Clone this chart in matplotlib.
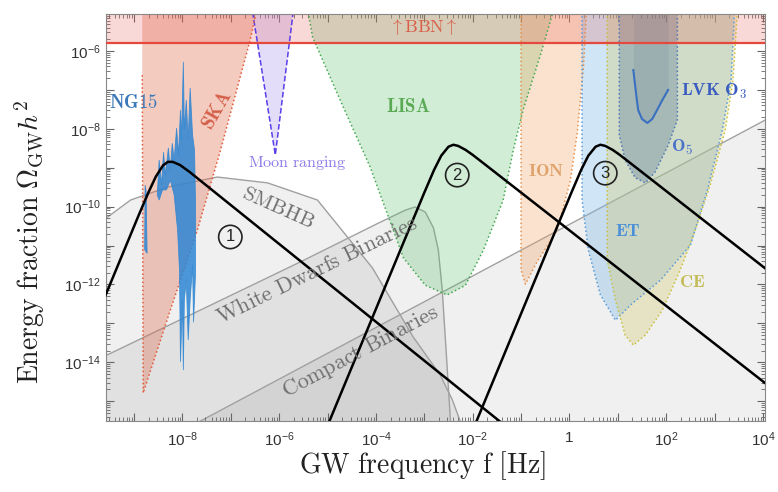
import numpy as np
import matplotlib.pyplot as plt
from matplotlib.ticker import FixedLocator, FixedFormatter, LogLocator, NullFormatter

plt.rcParams['font.family'] = ['Liberation Sans', 'DejaVu Sans']
plt.rcParams['mathtext.fontset'] = 'custom'
plt.rcParams['mathtext.rm'] = 'Liberation Sans'
plt.rcParams['mathtext.it'] = 'Liberation Sans:italic'
plt.rcParams['mathtext.bf'] = 'Liberation Sans:bold'

# all values are log10(f/Hz) and log10(Omega_GW h^2)
x_lim = (-9.58, 4.04)
y_lim = (-15.51, -5.05)
bbn_level = -5.79

# signal spectra
curve1_f = [-9.6, -9.2, -8.9, -8.7, -8.55, -8.4, -8.3, -8.2, -8.05, -7.85, -7.5, -1.0]
curve1_o = [-12.31, -11.11, -10.21, -9.63, -9.23, -8.94, -8.85, -8.85, -8.93, -9.11, -9.46, -15.96]
curve2_f = [-5.0, -3.5, -3.0, -2.8, -2.65, -2.5, -2.4, -2.3, -2.15, -2.0, -1.7, 4.1]
curve2_o = [-15.63, -11.13, -9.64, -9.06, -8.69, -8.46, -8.41, -8.44, -8.54, -8.67, -8.96, -14.59]
curve3_f = [-1.96, -0.46, 0.04, 0.24, 0.39, 0.54, 0.64, 0.74, 0.89, 1.04, 1.34, 4.1]
curve3_o = [-15.63, -11.13, -9.64, -9.06, -8.69, -8.46, -8.41, -8.44, -8.54, -8.67, -8.96, -11.64]

# astrophysical foregrounds
smbhb_f = [-9.7, -9.57, -9.07, -8.31, -7.28, -6.24, -5.21, -4.59, -4.07, -3.23, -2.67, -2.42, -2.26, -2.2]
smbhb_o = [-10.41, -10.29, -9.83, -9.50, -9.24, -9.39, -9.83, -10.78, -11.58, -13.35, -14.33, -14.97, -15.51, -16.0]
wd_f = [-9.7, -7.63, -5.56, -3.91, -3.39, -3.19, -2.98, -2.81, -2.71, -2.63, -2.55, -2.46, -2.44]
wd_o = [-13.90, -12.66, -11.42, -10.40, -10.09, -10.01, -10.14, -10.55, -11.12, -12.14, -13.69, -15.51, -16.0]
cb_f = [-8.5, 4.1]
cb_o = [-16.09, -7.74]

# detector sensitivities
ska_f = [-8.83, -8.83, -8.81, -8.25, -7.69, -7.21, -6.60, -6.47]
ska_o = [-5.0, -6.62, -14.79, -12.66, -10.60, -8.54, -5.72, -5.0]
moon_f = [-6.55, -6.08, -5.71]
moon_o = [-5.0, -8.67, -5.0]
lisa_f = [-5.40, -5.31, -4.74, -4.12, -3.43, -2.98, -2.53, -2.15, -1.78, -1.37, -1.16, -0.96, -0.60, -0.34]
lisa_o = [-5.0, -5.64, -7.26, -8.98, -11.32, -12.02, -12.27, -12.02, -11.12, -9.83, -8.54, -7.52, -6.10, -5.0]
ion_f = [-1.00, -1.00, -0.91, -0.67, -0.25, 0.02, 0.16, 0.29, 0.35]
ion_o = [-5.0, -11.63, -11.99, -11.42, -10.60, -9.32, -8.11, -6.41, -5.0]
et_f = [0.26, 0.26, 0.39, 0.64, 0.95, 1.26, 1.88, 2.50, 2.85, 3.16, 3.34, 3.41]
et_o = [-5.0, -9.83, -11.12, -12.27, -12.92, -12.53, -11.89, -10.99, -9.57, -8.03, -6.75, -5.0]
ce_f = [0.78, 0.78, 0.95, 1.15, 1.32, 1.57, 1.92, 2.29, 2.60, 2.91, 3.22, 3.38, 3.47]
ce_o = [-5.0, -11.37, -12.40, -13.30, -13.56, -13.30, -12.66, -11.63, -10.60, -9.44, -8.03, -6.75, -5.0]
o5_f = [1.03, 1.03, 1.15, 1.36, 1.57, 1.77, 2.04, 2.23, 2.23]
o5_o = [-5.0, -8.16, -8.80, -9.26, -9.39, -9.11, -8.42, -7.77, -5.0]
o3_f = [1.32, 1.38, 1.42, 1.50, 1.61, 1.71, 1.81, 1.92, 2.04]
o3_o = [-6.49, -7.13, -7.52, -7.75, -7.85, -7.75, -7.52, -7.26, -7.00]

# NANOGrav 15 yr spikes (outline)
ng_f = [-8.52, -8.48, -8.43, -8.39, -8.35, -8.29, -8.25, -8.21, -8.17, -8.12, -8.08, -8.04, -8.02,
        -7.98, -7.96, -7.92, -7.88, -7.84, -7.79, -7.75, -7.73,
        -7.73, -7.77, -7.79, -7.84, -7.88, -7.92, -7.96, -7.98, -8.00, -8.04, -8.06, -8.10,
        -8.17, -8.25, -8.33, -8.41, -8.48]
ng_o = [-9.70, -8.80, -9.44, -8.60, -9.19, -8.49, -9.06, -8.37, -8.80, -7.98, -8.67, -7.52, -8.29,
        -6.28, -8.03, -7.26, -8.29, -6.95, -8.16, -8.54, -9.83,
        -11.76, -12.97, -11.50, -12.40, -13.43, -11.89, -12.40, -14.20, -12.40, -13.99, -11.63, -10.60,
        -9.70, -9.32, -9.57, -9.57, -9.83]
ng_first_f = [-8.78, -8.77, -8.75, -8.73]
ng_first_o = [-11.10, -9.45, -9.60, -11.20]


def P(v):
    return 10.0 ** np.asarray(v)


fig = plt.figure(figsize=(7.78, 4.92), dpi=100)
ax = fig.add_axes([0.1362, 0.1443, 0.847, 0.8272])
ax.set_xscale('log')
ax.set_yscale('log')

# foregrounds (grey)
for fx, fo in [(smbhb_f, smbhb_o), (wd_f, wd_o), (cb_f, cb_o)]:
    ax.fill_between(P(fx), P(fo), 1e-18, color='k', alpha=0.06, lw=0, zorder=1)
    ax.plot(P(fx), P(fo), color='#a0a0a0', lw=1.0, zorder=1.5)

# sensitivity regions: data, face, edge, alpha, linestyle, first point of the drawn edge
regions = [
    (lisa_f, lisa_o, '#5cc06a', '#45a852', 0.28, ':', 0),
    (ion_f, ion_o, '#f0a060', '#e8904a', 0.30, ':', 0),
    (et_f, et_o, '#7ab8e8', '#5a9ad8', 0.35, ':', 0),
    (ce_f, ce_o, '#d0c860', '#c8c040', 0.30, ':', 0),
    (o5_f, o5_o, '#4a6a90', '#5078b8', 0.30, ':', 0),
    (moon_f, moon_o, '#a898f2', '#5a3ee8', 0.32, '--', 0),
    (ska_f, ska_o, '#e06a4a', '#e05a3a', 0.35, ':', 1),
]
for fx, fo, face, edge, al, ls, k in regions:
    ax.fill(P(fx), P(fo), color=face, alpha=al, lw=0, zorder=2)
    ax.plot(P(fx[k:]), P(fo[k:]), color=edge, ls=ls, lw=1.1, zorder=2.5)

ax.fill_between(P(o3_f), P(o3_o), 1e-4, color='#3a5a80', alpha=0.10, lw=0, zorder=2)
ax.plot(P(o3_f), P(o3_o), color='#3a70c0', lw=1.5, zorder=3)

ax.fill(P(ng_f), P(ng_o), color='#2e86d4', alpha=0.85, lw=0.6, ec='#2e86d4', zorder=3)
ax.fill(P(ng_first_f), P(ng_first_o), color='#2e86d4', alpha=0.85, lw=0.6, ec='#2e86d4', zorder=3)

# BBN bound
ax.axhspan(P(bbn_level), 1e-3, color='#e8534a', alpha=0.22, lw=0, zorder=2)
ax.axhline(P(bbn_level), color='#e5483c', lw=1.6, zorder=4)

# signals
for fx, fo in [(curve1_f, curve1_o), (curve2_f, curve2_o), (curve3_f, curve3_o)]:
    ax.plot(P(fx), P(fo), color='k', lw=1.8, zorder=6)


# labels
def lab(x, y, s, c, fs, rot=0):
    ax.text(P(x), P(y), s, color=c, fontsize=fs, rotation=rot, ha='center', va='center',
            math_fontfamily='cm', zorder=7, rotation_mode='anchor')


lab(-9.01, -7.34, r'$\mathbf{NG15}$', '#3b78b8', 13.5)
lab(-7.28, -7.52, r'$\mathbf{SKA}$', '#d4604a', 14, 60)
lab(-5.62, -8.88, r'$\mathrm{Moon\ ranging}$', '#8b78e8', 11.5)
lab(-3.33, -7.44, r'$\mathbf{LISA}$', '#5aaa55', 13.5)
lab(-0.48, -9.11, r'$\mathbf{ION}$', '#dfa26a', 13)
lab(1.21, -10.65, r'$\mathbf{ET}$', '#4a8fd8', 13)
lab(2.54, -11.96, r'$\mathbf{CE}$', '#c4bc58', 13)
lab(2.33, -8.49, r'$\mathbf{O}_\mathbf{5}$', '#4a70c8', 13)
lab(2.99, -7.03, r'$\mathbf{LVK\ O}_\mathbf{3}$', '#3a5cc0', 13)
lab(-3.02, -5.38, r'$\uparrow\mathrm{BBN}\uparrow$', '#d8604a', 13)
lab(-6.02, -10.04, r'$\mathrm{SMBHB}$', '#707070', 15, -24)
lab(-5.21, -11.66, r'$\mathrm{White\ Dwarfs\ Binaries}$', '#707070', 16, 26)
lab(-4.32, -13.74, r'$\mathrm{Compact\ Binaries}$', '#707070', 16, 28)

for x, y, s in [(-7.01, -10.78, '1'), (-2.32, -9.19, '2'), (0.74, -9.14, '3')]:
    ax.text(P(x), P(y), s, fontsize=12, ha='center', va='center', color='#222', zorder=7,
            bbox=dict(boxstyle='circle,pad=0.25', fc='none', ec='#222', lw=1.2))

# axes
ax.set_xlim(P(x_lim[0]), P(x_lim[1]))
ax.set_ylim(P(y_lim[0]), P(y_lim[1]))

xdec = np.arange(-9, 5)
xlabels = ['' if d % 2 else ('1' if d == 0 else r'$10^{%d}$' % d) for d in xdec]
ax.xaxis.set_major_locator(FixedLocator(P(xdec)))
ax.xaxis.set_major_formatter(FixedFormatter(xlabels))
ydec = np.arange(-15, -4)
ylabels = ['' if d % 2 else r'$10^{%d}$' % d for d in ydec]
ax.yaxis.set_major_locator(FixedLocator(P(ydec)))
ax.yaxis.set_major_formatter(FixedFormatter(ylabels))
for a in (ax.xaxis, ax.yaxis):
    a.set_minor_locator(LogLocator(base=10, subs=np.arange(2, 10), numticks=100))
    a.set_minor_formatter(NullFormatter())

ax.tick_params(which='both', direction='in', top=True, right=True, color='#666666',
               labelsize=11, labelcolor='#333333')
ax.tick_params(which='major', length=6, width=0.8)
ax.tick_params(which='minor', length=3, width=0.6)
ax.tick_params(axis='x', pad=7)
for s in ax.spines.values():
    s.set_color('#888888')
    s.set_linewidth(0.8)

fig.text(422 / 778, 1 - 466 / 492, r'$\mathrm{GW\ frequency\ f\ [Hz]}$', ha='center', va='center',
         fontsize=20, math_fontfamily='cm', color='#222222')
fig.text(30 / 778, 1 - 242 / 492, r'$\mathrm{Energy\ fraction}\ \Omega_{\mathrm{GW}}h^2$', ha='center',
         va='center', rotation=90, fontsize=20, math_fontfamily='cm', color='#222222')

fig.savefig('out.png', dpi=100)
